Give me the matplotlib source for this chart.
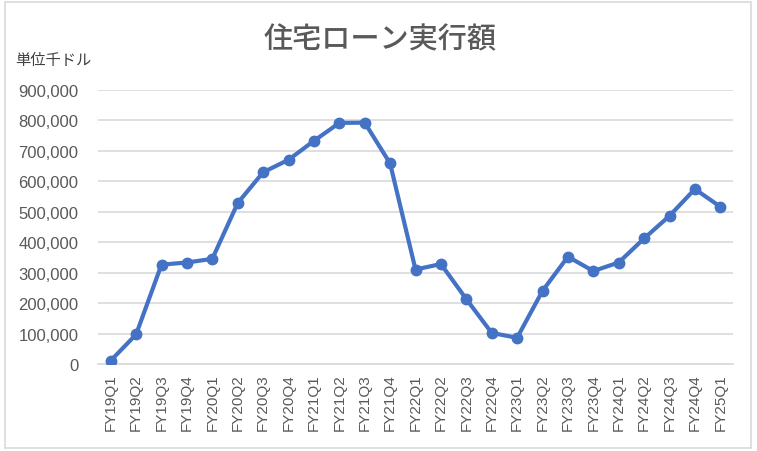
import numpy as np
from matplotlib import pyplot as plt
from matplotlib.patches import Rectangle
from matplotlib.ticker import FuncFormatter

plt.rcParams['font.family'] = ['Noto Sans CJK JP', 'DejaVu Sans']

quarters = ['FY19Q1', 'FY19Q2', 'FY19Q3', 'FY19Q4',
            'FY20Q1', 'FY20Q2', 'FY20Q3', 'FY20Q4',
            'FY21Q1', 'FY21Q2', 'FY21Q3', 'FY21Q4',
            'FY22Q1', 'FY22Q2', 'FY22Q3', 'FY22Q4',
            'FY23Q1', 'FY23Q2', 'FY23Q3', 'FY23Q4',
            'FY24Q1', 'FY24Q2', 'FY24Q3', 'FY24Q4',
            'FY25Q1']
loans = [11000, 97000, 326000, 333000,
         345000, 528000, 629000, 670000,
         732000, 791000, 792000, 658000,
         310000, 328000, 213000, 102000,
         86000, 240000, 352000, 305000,
         333000, 412000, 486000, 574000,
         516000]
yticks = np.arange(0, 900001, 100000)

W, H = 757, 452
fig = plt.figure(figsize=(W / 100, H / 100), dpi=100)
fig.patches.append(Rectangle((5 / W, 3 / H), 746 / W, 446 / H, transform=fig.transFigure,
                             fill=False, edgecolor='#d9d9d9', linewidth=1.2))

ax = fig.add_axes([98 / W, 1 - 365 / H, 635 / W, (365 - 90.7) / H])
x = np.arange(len(quarters))
ax.plot(x, loans, '-o', color='#4472c4', linewidth=3, markersize=7.5, zorder=3)

ax.set_xlim(-0.5, len(quarters) - 0.5)
ax.set_ylim(0, 900000)
ax.set_yticks(yticks)
ax.yaxis.set_major_formatter(FuncFormatter(lambda v, p: f'{int(v):,}'))
ax.grid(axis='y', color='#d9d9d9', linewidth=1.2)
ax.set_axisbelow(True)
for s in ['top', 'right', 'left']:
    ax.spines[s].set_visible(False)
ax.spines['bottom'].set_color('#d9d9d9')
ax.spines['bottom'].set_linewidth(1.2)

ax.set_xticks(x)
ax.set_xticklabels(quarters, rotation=90, fontsize=11, color='#595959', family='Liberation Sans')
ax.tick_params(axis='y', labelsize=12, labelcolor='#595959', length=0, pad=14)
ax.tick_params(axis='x', length=0, pad=7)
for t in ax.get_yticklabels():
    t.set_family('Liberation Sans')

fig.text(380 / W, 1 - 40 / H, '住宅ローン実行額', ha='center', va='center',
         fontsize=21, color='#595959', fontweight='medium')
fig.text(15 / W, 1 - 60 / H, '単位千ドル', ha='left', va='center',
         fontsize=11, color='#404040')

plt.savefig('out.png', dpi=100)
